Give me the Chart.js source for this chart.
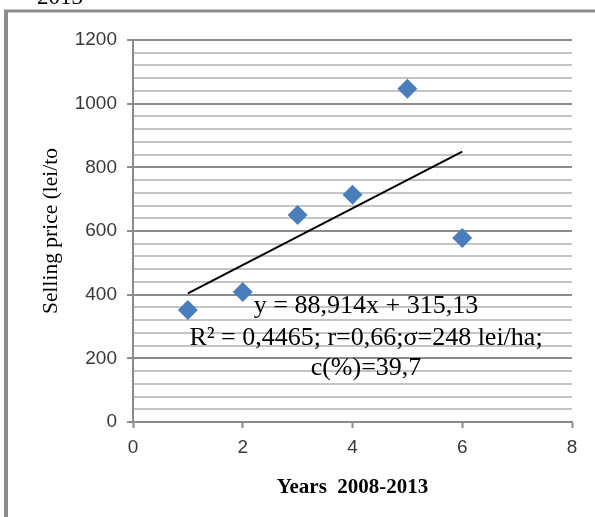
<!DOCTYPE html>
<html>
<head>
<meta charset="utf-8">
<script src="https://cdn.jsdelivr.net/npm/chart.js@4/dist/chart.umd.min.js"></script>
<style>
  html, body { margin: 0; padding: 0; background: #fff; }
  #wrap { width: 595px; height: 517px; }
</style>
</head>
<body>
<div id="wrap"><canvas id="priceChart" width="595" height="517"></canvas></div>
<script>
'use strict';

// data
const years = [1, 2, 3, 4, 5, 6];
const sellingPrice = [352, 408, 650, 714, 1047, 578];
// linear trend y = 88,914x + 315,13, ends at x=1 and x=6
const trendYears = [1, 6];
const trendPrice = [404, 849];
const xTicks = [0, 2, 4, 6, 8];
const yTicks = [0, 200, 400, 600, 800, 1000, 1200];
const trendLabel = ['y = 88,914x + 315,13', 'R\u00b2 = 0,4465; r=0,66;\u03c3=248 lei/ha;', 'c(%)=39,7'];

const majorGrid = '#8c8c8c';
const minorGrid = '#c4c4c4';

const frame = {
    id: 'frame',
    beforeDraw(chart) {
        const ctx = chart.ctx;
        ctx.save();
        ctx.fillStyle = '#fff';
        ctx.fillRect(0, 0, chart.width, chart.height);
        ctx.fillStyle = '#000';
        ctx.font = '23px "Liberation Serif"';
        ctx.textBaseline = 'alphabetic';
        ctx.fillText('2013', 37, 4);
        ctx.strokeStyle = '#8c8c8c';
        ctx.lineWidth = 3;
        ctx.beginPath();
        ctx.moveTo(4, 11);
        ctx.lineTo(chart.width, 11);
        ctx.stroke();
        ctx.lineWidth = 4;
        ctx.beginPath();
        ctx.moveTo(6, 10);
        ctx.lineTo(6, chart.height);
        ctx.stroke();
        ctx.restore();
    },
    afterDatasetsDraw(chart) {
        const ctx = chart.ctx;
        ctx.save();
        ctx.fillStyle = '#000';
        ctx.font = '26px "Liberation Serif"';
        ctx.textAlign = 'center';
        ctx.textBaseline = 'middle';
        const cx = 366;
        [306, 338, 368].forEach((y, i) => ctx.fillText(trendLabel[i], cx, y));
        ctx.restore();
    }
};

new Chart('priceChart', {
    type: 'scatter',
    data: {
        datasets: [{
            data: years.map((x, i) => ({x: x, y: sellingPrice[i]})),
            pointStyle: 'rectRot',
            pointRadius: 10,
            backgroundColor: '#4a7ebb',
            borderColor: '#4a7ebb',
            borderWidth: 0
        }, {
            type: 'line',
            data: trendYears.map((x, i) => ({x: x, y: trendPrice[i]})),
            borderColor: '#000',
            borderWidth: 2,
            pointRadius: 0,
            fill: false
        }]
    },
    options: {
        responsive: false,
        animation: false,
        layout: {padding: {left: 0, right: 23, top: 40, bottom: 0}},
        plugins: {legend: {display: false}, tooltip: {enabled: false}},
        scales: {
            x: {
                type: 'linear',
                min: 0,
                max: 8,
                afterBuildTicks: (scale) => { scale.ticks = xTicks.map(v => ({value: v})); },
                afterFit: (scale) => { scale.height = 95; },
                border: {color: majorGrid, width: 2},
                grid: {drawOnChartArea: false, drawTicks: true, tickLength: 6, tickColor: majorGrid, tickWidth: 2},
                ticks: {color: '#383838', padding: 8, font: {family: '"Liberation Sans"', size: 19}},
                title: {
                    display: true,
                    text: 'Years  2008-2013',
                    color: '#000',
                    padding: {top: 0, bottom: 17},
                    font: {family: '"Liberation Serif"', size: 21, weight: 'bold'}
                }
            },
            y: {
                min: 0,
                max: 1200,
                afterFit: (scale) => { scale.width = 133; },
                border: {color: majorGrid, width: 2},
                grid: {
                    color: (c) => c.tick.value % 200 === 0 ? majorGrid : minorGrid,
                    lineWidth: 2,
                    tickLength: 6,
                    tickColor: (c) => c.tick.value % 200 === 0 ? majorGrid : 'rgba(0,0,0,0)',
                    tickWidth: 2
                },
                ticks: {
                    stepSize: 40,
                    autoSkip: false,
                    color: '#383838',
                    padding: 10,
                    font: {family: '"Liberation Sans"', size: 19},
                    callback: (v) => yTicks.includes(v) ? v : ''
                },
                title: {
                    display: true,
                    text: 'Selling price (lei/to',
                    color: '#000',
                    padding: {top: 38, bottom: 0},
                    font: {family: '"Liberation Serif"', size: 21.5}
                }
            }
        }
    },
    plugins: [frame]
});
</script>
</body>
</html>
